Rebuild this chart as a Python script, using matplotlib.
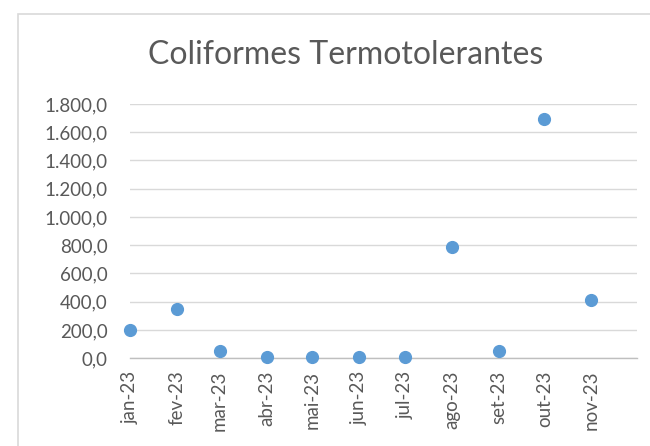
import datetime as dt
import matplotlib
matplotlib.use("Agg")
import matplotlib.pyplot as plt
import matplotlib.dates as mdates
from matplotlib.ticker import FuncFormatter, MultipleLocator
from matplotlib.patches import Rectangle

months = [dt.date(2023, m, 1) for m in range(1, 12)]
month_labels = ["jan-23", "fev-23", "mar-23", "abr-23", "mai-23", "jun-23",
                "jul-23", "ago-23", "set-23", "out-23", "nov-23"]
values = [200, 345, 50, 8, 8, 8, 8, 790, 50, 1690, 410]

plt.rcParams['font.family'] = ['Lato', 'DejaVu Sans']
grey = '#595959'

fig = plt.figure(figsize=(6.5, 4.46), dpi=100)
ax = fig.add_axes([0.2, 0.197, 0.78, 0.57])

# chart frame like the excel chart area
fig.patches.append(Rectangle((18/650, -0.1), 1.2, 1.1 - 14/446, transform=fig.transFigure,
                             fill=False, edgecolor='#D9D9D9', linewidth=1.2))

ax.scatter(months, values, s=72, color='#5B9BD5', zorder=3, clip_on=False)

ax.set_xlim(dt.date(2023, 1, 1), dt.date(2023, 12, 1))
ax.set_ylim(0, 1800)
ax.yaxis.set_major_locator(MultipleLocator(200))

def fmt(v, pos):
    s = f"{v:,.1f}"
    return s.replace(",", "X").replace(".", ",").replace("X", ".")
ax.yaxis.set_major_formatter(FuncFormatter(fmt))

ax.set_xticks(months)
ax.set_xticklabels(month_labels, rotation=90)

ax.grid(axis='y', color='#D9D9D9', linewidth=1)
ax.set_axisbelow(True)
for side in ['top', 'right', 'left']:
    ax.spines[side].set_visible(False)
ax.spines['bottom'].set_color('#BFBFBF')
ax.spines['bottom'].set_linewidth(1)
ax.tick_params(axis='both', length=0, labelsize=13.5, colors=grey)
ax.tick_params(axis='x', pad=9)
ax.tick_params(axis='y', pad=16)

fig.text(0.531, 0.876, "Coliformes Termotolerantes", ha='center', va='center',
         fontsize=23, color=grey)

fig.savefig("out.png", dpi=100)
